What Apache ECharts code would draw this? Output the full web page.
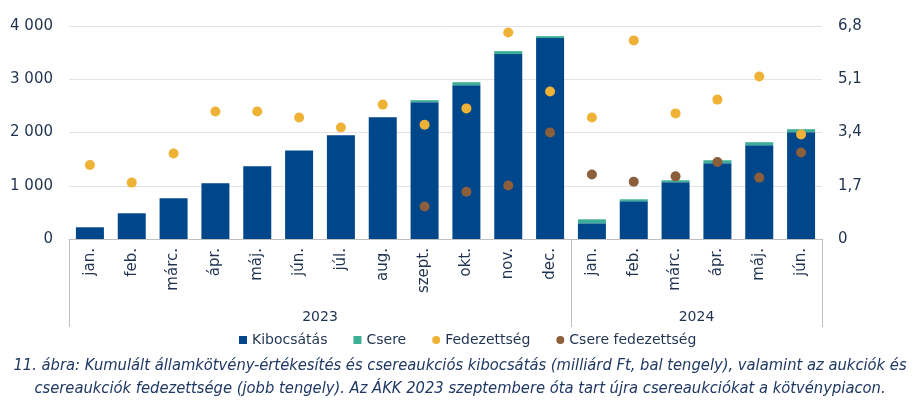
<!DOCTYPE html>
<html>
<head>
<meta charset="utf-8">
<script src="https://cdn.jsdelivr.net/npm/echarts@6/dist/echarts.min.js"></script>
<style>
html,body{margin:0;padding:0;background:#fff;}
#chart{width:920px;height:405px;}
</style>
</head>
<body>
<div id="chart"></div>
<script>
const months = ['jan.','feb.','márc.','ápr.','máj.','jún.','júl.','aug.','szept.','okt.','nov.','dec.',
                'jan.','feb.','márc.','ápr.','máj.','jún.'];
const yearSlots = ['','','','','','','2023','','','','','','','','','2024','','',''];
const kibocsatas = [220,483,765,1047,1366,1662,1949,2288,2570,2889,3472,3773,295,709,1066,1423,1762,2006];
const csere = [null,null,null,null,null,null,null,null,37,56,56,37,75,37,37,56,56,56];
const fedezettseg = [2.36,1.80,2.73,4.07,4.07,3.88,3.56,4.29,3.65,4.17,6.59,4.71,3.88,6.34,4.01,4.45,5.19,3.34];
const csereFedezettseg = [null,null,null,null,null,null,null,null,1.04,1.51,1.71,3.40,2.06,1.83,2.00,2.46,1.96,2.76];
const caption = '11. ábra: Kumulált államkötvény-értékesítés és csereaukciós kibocsátás (milliárd Ft, bal tengely), valamint az aukciók és\ncsereaukciók fedezettsége (jobb tengely). Az ÁKK 2023 szeptembere óta tart újra csereaukciókat a kötvénypiacon.';

const txt = '#1F3350';
const font = 'DejaVu Sans';
const chart = echarts.init(document.getElementById('chart'), null, {renderer:'canvas'});
chart.setOption({
  animation:false,
  grid:{left:69, right:98, top:26, bottom:166},
  legend:{
    left:234, top:328, itemWidth:8, itemHeight:8, itemGap:26,
    textStyle:{fontFamily:font, fontSize:14, color:txt},
    data:[{name:'Kibocsátás', icon:'rect'},{name:'Csere', icon:'rect'},
          {name:'Fedezettség', icon:'circle'},{name:'Csere fedezettség', icon:'circle'}]
  },
  xAxis:[{
    type:'category', data:months, position:'bottom',
    axisLine:{show:true, lineStyle:{color:'#BFBFBF'}},
    axisTick:{show:false},
    axisLabel:{rotate:90, margin:9, fontFamily:font, fontSize:15, color:txt, interval:0}
  },{
    type:'category', data:yearSlots, boundaryGap:false, position:'bottom',
    axisLine:{show:false},
    axisTick:{show:true, length:88, lineStyle:{color:'#BFBFBF'},
      interval:function(i){return i===0||i===12||i===18;}},
    axisLabel:{margin:71, interval:0, fontFamily:font, fontSize:14, color:txt}
  }],
  yAxis:[{
    type:'value', min:0, max:4000, interval:1000,
    axisLine:{show:false}, axisTick:{show:false},
    splitLine:{lineStyle:{color:'#E3E3E3'}},
    axisLabel:{margin:16, fontFamily:font, fontSize:15, color:txt,
      formatter:function(v){return String(v).replace(/\B(?=(\d{3})+(?!\d))/g,' ');}}
  },{
    type:'value', min:0, max:6.8, interval:1.7,
    axisLine:{show:false}, axisTick:{show:false}, splitLine:{show:false},
    axisLabel:{margin:16, fontFamily:font, fontSize:15, color:txt,
      formatter:function(v){return v===0?'0':v.toFixed(1).replace('.',',');}}
  }],
  series:[
    {name:'Kibocsátás', type:'bar', stack:'a', barWidth:28, data:kibocsatas, itemStyle:{color:'#00468B'}},
    {name:'Csere', type:'bar', stack:'a', barWidth:28, data:csere, itemStyle:{color:'#3DAF96'}},
    {name:'Fedezettség', type:'scatter', yAxisIndex:1, symbolSize:10, data:fedezettseg, itemStyle:{color:'#EEB237', opacity:1}},
    {name:'Csere fedezettség', type:'scatter', yAxisIndex:1, symbolSize:10, data:csereFedezettseg, itemStyle:{color:'#8B5E3C', opacity:1}}
  ],
  graphic:[{
    type:'text', left:'center', top:354,
    style:{text:caption, fill:'#1F3864', font:'italic 16.4px "DejaVu Sans Condensed"', textAlign:'center', lineHeight:23}
  }]
});
</script>
</body>
</html>
